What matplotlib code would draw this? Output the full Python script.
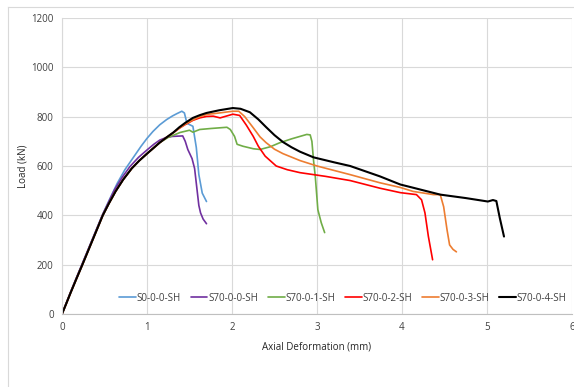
import matplotlib
matplotlib.use("Agg")
import matplotlib.pyplot as plt
from matplotlib.lines import Line2D

labels = ["S0-0-0-SH", "S70-0-0-SH", "S70-0-1-SH", "S70-0-2-SH", "S70-0-3-SH", "S70-0-4-SH"]
colors = ["#5B9BD5", "#7030A0", "#70AD47", "#FF0000", "#ED7D31", "#000000"]

s0_x = [0, 0.05, 0.1, 0.17, 0.24, 0.3, 0.36, 0.42, 0.48, 0.56, 0.65, 0.74, 0.85, 0.93, 1.0, 1.07, 1.15, 1.23, 1.3, 1.35, 1.41, 1.44, 1.47, 1.54, 1.58, 1.61, 1.65, 1.70]
s0_y = [0, 44, 88, 147, 205, 255, 305, 355, 405, 465, 530, 585, 640, 680, 712, 740, 767, 788, 803, 812, 822, 815, 773, 761, 675, 565, 490, 456]

s70_0_x = [0, 0.05, 0.1, 0.17, 0.24, 0.3, 0.36, 0.42, 0.48, 0.55, 0.62, 0.71, 0.8, 0.9, 1.0, 1.08, 1.15, 1.23, 1.3, 1.42, 1.45, 1.48, 1.53, 1.56, 1.59, 1.61, 1.63, 1.66, 1.70]
s70_0_y = [0, 44, 88, 147, 205, 255, 305, 355, 405, 455, 505, 555, 598, 635, 665, 688, 705, 716, 720, 722, 700, 667, 630, 590, 500, 440, 410, 385, 366]

s70_1_x = [0, 0.05, 0.1, 0.17, 0.24, 0.3, 0.36, 0.42, 0.48, 0.55, 0.63, 0.72, 0.82, 0.91, 1.0, 1.08, 1.15, 1.25, 1.39, 1.5, 1.54, 1.62, 1.75, 1.94, 1.98, 2.03, 2.06, 2.13, 2.25, 2.33, 2.45, 2.56, 2.7, 2.88, 2.92, 2.94, 2.96, 2.98, 3.01, 3.05, 3.09]
s70_1_y = [0, 42, 85, 143, 200, 250, 300, 350, 400, 447, 497, 545, 590, 622, 650, 674, 695, 716, 736, 745, 737, 748, 752, 757, 748, 720, 688, 680, 670, 667, 678, 694, 710, 728, 726, 700, 620, 557, 423, 370, 330]

s70_2_x = [0, 0.05, 0.1, 0.17, 0.24, 0.3, 0.36, 0.42, 0.48, 0.55, 0.63, 0.72, 0.82, 0.91, 1.0, 1.08, 1.15, 1.23, 1.31, 1.38, 1.45, 1.54, 1.62, 1.7, 1.78, 1.86, 1.94, 2.01, 2.09, 2.17, 2.25, 2.31, 2.39, 2.52, 2.65, 2.8, 3.1, 3.39, 3.74, 3.98, 4.17, 4.23, 4.27, 4.31, 4.36]
s70_2_y = [0, 42, 85, 143, 200, 250, 300, 350, 400, 447, 497, 545, 590, 622, 650, 674, 695, 716, 735, 753, 768, 785, 795, 801, 802, 795, 803, 810, 805, 765, 720, 680, 640, 600, 585, 573, 558, 541, 510, 492, 484, 463, 410, 315, 220]

s70_3_x = [0, 0.05, 0.1, 0.17, 0.24, 0.3, 0.36, 0.42, 0.48, 0.55, 0.63, 0.72, 0.82, 0.91, 1.0, 1.08, 1.15, 1.23, 1.31, 1.38, 1.45, 1.54, 1.62, 1.7, 1.85, 2.01, 2.08, 2.15, 2.25, 2.33, 2.4, 2.5, 2.6, 2.8, 3.0, 3.39, 3.74, 3.98, 4.13, 4.37, 4.45, 4.49, 4.53, 4.56, 4.6, 4.64]
s70_3_y = [0, 42, 85, 143, 200, 250, 300, 350, 400, 447, 497, 545, 590, 622, 650, 674, 695, 716, 735, 753, 770, 787, 800, 809, 815, 822, 822, 800, 755, 718, 695, 668, 650, 622, 600, 565, 532, 513, 497, 484, 484, 435, 341, 280, 262, 252]

s70_4_x = [0, 0.05, 0.1, 0.17, 0.24, 0.3, 0.36, 0.42, 0.48, 0.55, 0.63, 0.72, 0.82, 0.91, 1.0, 1.08, 1.15, 1.23, 1.31, 1.38, 1.45, 1.54, 1.62, 1.7, 1.85, 2.01, 2.1, 2.21, 2.31, 2.4, 2.5, 2.6, 2.7, 2.8, 2.96, 3.2, 3.39, 3.74, 3.98, 4.13, 4.45, 4.75, 5.01, 5.07, 5.11, 5.15, 5.2]
s70_4_y = [0, 42, 85, 143, 200, 250, 300, 350, 400, 447, 497, 545, 590, 622, 650, 674, 695, 716, 736, 757, 775, 795, 806, 815, 826, 835, 832, 818, 789, 758, 725, 697, 676, 658, 635, 615, 600, 558, 525, 512, 484, 470, 456, 462, 458, 390, 314]

series_x = [s0_x, s70_0_x, s70_1_x, s70_2_x, s70_3_x, s70_4_x]
series_y = [s0_y, s70_0_y, s70_1_y, s70_2_y, s70_3_y, s70_4_y]

x_ticks = [0, 1, 2, 3, 4, 5, 6]
y_ticks = [0, 200, 400, 600, 800, 1000, 1200]

plt.rcParams['font.family'] = ['Open Sans', 'DejaVu Sans']

fig = plt.figure(figsize=(5.74, 3.87), dpi=100)
ax = fig.add_axes([62/574, 1-314/387, 510/574, 296/387])

for xs, ys, c, lab in zip(series_x, series_y, colors, labels):
    lw = 1.5 if c == "#000000" else 1.2
    ax.plot(xs, ys, color=c, lw=lw, label=lab, solid_joinstyle='round', solid_capstyle='round')

ax.set_xlim(0, 6)
ax.set_ylim(0, 1200)
ax.set_xticks(x_ticks)
ax.set_yticks(y_ticks)
ax.grid(True, color="#d9d9d9", lw=0.8)
ax.set_axisbelow(True)
for s in ['top', 'right']:
    ax.spines[s].set_visible(False)
ax.spines['left'].set_color("#d9d9d9")
ax.spines['bottom'].set_color("#bfbfbf")
ax.tick_params(length=0, labelsize=7, colors="#404040", pad=6)

ax.set_xlabel("Axial Deformation (mm)", fontsize=7, color="#262626", labelpad=6)
ax.set_ylabel("Load (kN)", fontsize=7, color="#262626", labelpad=2)

leg = ax.legend(ncol=6, loc='center', bbox_to_anchor=(0.551, 0.054), frameon=False,
                fontsize=7, handlelength=1.7, handletextpad=0.1, columnspacing=1.0,
                labelcolor="#404040")

fig.add_artist(Line2D([8/574, 1], [1-7/387, 1-7/387], color="#d9d9d9", lw=0.8))
fig.add_artist(Line2D([8/574, 8/574], [0, 1-7/387], color="#d9d9d9", lw=0.8))

fig.savefig("out.png", dpi=100)
